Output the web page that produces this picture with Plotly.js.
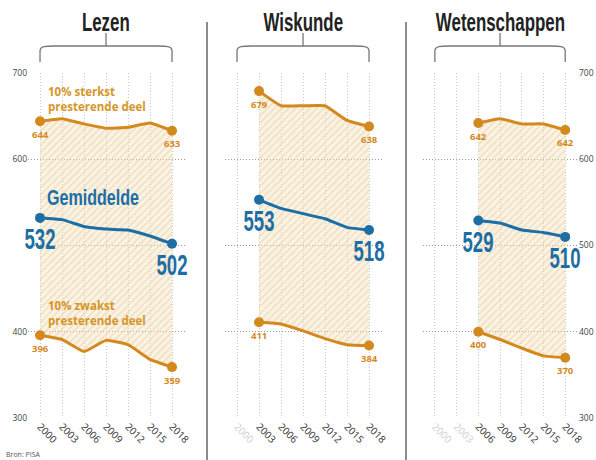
<!DOCTYPE html>
<html><head><meta charset="utf-8">
<script src="https://cdn.plot.ly/plotly-3.0.1.min.js"></script>
<style>html,body{margin:0;padding:0;background:#fff}#chart{width:596px;height:460px}</style>
</head><body><div id="chart"></div>
<script>
// ---------- data ----------
const yearsAll = [2000, 2003, 2006, 2009, 2012, 2015, 2018];
const tickLabels = ['2000', '2003', '2006', '2009', '2012', '2015', '2018'];

const lezenYears = [2000, 2003, 2006, 2009, 2012, 2015, 2018];
const lezenTop  = [644, 647, 641, 636, 637, 642, 633];
const lezenMean = [532, 530, 522, 519, 518, 511, 502];
const lezenLow  = [396, 391, 377, 390, 385, 368, 359];

const wiskYears = [2003, 2006, 2009, 2012, 2015, 2018];
const wiskTop  = [679, 662, 662, 662, 645, 638];
const wiskMean = [553, 543, 537, 531, 521, 518];
const wiskLow  = [411, 409, 401, 392, 385, 384];

const wetYears = [2006, 2009, 2012, 2015, 2018];
const wetTop  = [642, 647, 641, 641, 634];
const wetMean = [529, 526, 518, 515, 510];
const wetLow  = [400, 391, 381, 372, 370];

// printed end labels (as in the source graphic)
const lezenTopLabels = ['644', '633'];
const wiskTopLabels  = ['679', '638'];
const wetTopLabels   = ['642', '642'];

const panelTitles = ['Lezen', 'Wiskunde', 'Wetenschappen'];
const yTicks = [300, 400, 500, 600, 700];

// ---------- style ----------
const ORANGE = '#d4891f';
const BLUE = '#1c6ea4';
const W = 596, H = 460;
const py = p => (H - p) / H;   // pixel row -> paper y
const px = p => p / W;         // pixel col -> paper x

const panels = [
  {years: lezenYears, top: lezenTop, mean: lezenMean, low: lezenLow, topLab: lezenTopLabels, xa: 'x',  ya: 'y'},
  {years: wiskYears,  top: wiskTop,  mean: wiskMean,  low: wiskLow,  topLab: wiskTopLabels,  xa: 'x2', ya: 'y2'},
  {years: wetYears,   top: wetTop,   mean: wetMean,   low: wetLow,   topLab: wetTopLabels,   xa: 'x3', ya: 'y3'}
];

function endSizes(n){ return Array.from({length:n}, (_, i) => (i === 0 || i === n-1) ? 10 : 0); }
function mk(color, n){ return {color: color, size: endSizes(n), opacity: 1, line: {width: 0}}; }
const SMOOTH = 0.35;

const traces = [];
panels.forEach(p => {
  const n = p.years.length;
  traces.push({x: p.years, y: p.low, xaxis: p.xa, yaxis: p.ya, mode: 'lines+markers',
    line: {color: ORANGE, width: 3, shape: 'spline', smoothing: SMOOTH},
    marker: mk(ORANGE, n), cliponaxis: false, hoverinfo: 'skip', showlegend: false});
  traces.push({x: p.years, y: p.top, xaxis: p.xa, yaxis: p.ya, mode: 'lines+markers',
    fill: 'tonexty', fillcolor: 'rgba(240,215,170,0.35)',
    fillpattern: {shape: '/', bgcolor: 'rgba(243,222,185,0.4)', fgcolor: 'rgba(222,188,128,0.45)', size: 5, solidity: 0.22},
    line: {color: ORANGE, width: 3, shape: 'spline', smoothing: SMOOTH},
    marker: mk(ORANGE, n), cliponaxis: false, hoverinfo: 'skip', showlegend: false});
  traces.push({x: p.years, y: p.mean, xaxis: p.xa, yaxis: p.ya, mode: 'lines+markers',
    line: {color: BLUE, width: 3, shape: 'spline', smoothing: SMOOTH},
    marker: mk(BLUE, n), cliponaxis: false, hoverinfo: 'skip', showlegend: false});
});

const xRange = [1998.36, 2019.77];
const xDomains = [[px(28), px(185)], [px(225), px(382)], [px(423), px(578)]];
const yDomain = [py(418), py(73)];

function xAxis(i, fadedCount){
  const txt = tickLabels.map((t, k) => k < fadedCount ? '<span style="color:#d0d0d0">' + t + '</span>' : t);
  return {domain: xDomains[i], range: xRange, anchor: ['y','y2','y3'][i],
    tickvals: yearsAll, ticktext: txt, tickangle: 45,
    tickfont: {family: 'Open Sans, DejaVu Sans, sans-serif', size: 10, color: '#333'},
    showgrid: true, gridcolor: '#c8c8c8', griddash: '1px,2px', gridwidth: 1,
    zeroline: false, showline: false, ticks: '', fixedrange: true};
}
function yAxis(i){
  const base = {domain: yDomain, range: [300, 700], anchor: ['x','x2','x3'][i],
    tickvals: yTicks, showgrid: true, gridcolor: '#9a9a9a', griddash: '1px,2px', gridwidth: 1,
    zeroline: false, showline: false, ticks: '', fixedrange: true,
    tickfont: {family: 'Open Sans, DejaVu Sans, sans-serif', size: 8.5, color: '#444'}};
  if (i === 0) { base.side = 'left'; base.ticktext = yTicks.map(v => v === 500 ? '' : String(v)); }
  if (i === 1) { base.showticklabels = false; }
  if (i === 2) { base.side = 'right'; base.ticktext = yTicks.map(String); }
  return base;
}

const annotations = [];
const condensed = [];   // annotations to squeeze horizontally (condensed display face)
const shapes = [];
const smallFont = {family: 'Open Sans, sans-serif', size: 9.5, color: ORANGE, weight: 700};
const bigFont = {family: 'Liberation Sans, Arial, sans-serif', size: 30, color: BLUE, weight: 700};
function addCond(a, sx, origin){ condensed.push({i: annotations.length, sx: sx, origin: origin}); annotations.push(a); }

panels.forEach((p, i) => {
  const n = p.years.length;
  [0, n - 1].forEach((k, j) => {
    annotations.push({xref: p.xa, yref: p.ya, x: p.years[k], y: p.top[k], text: p.topLab[j],
      showarrow: false, yshift: -13, font: smallFont});
    annotations.push({xref: p.xa, yref: p.ya, x: p.years[k], y: p.low[k], text: String(p.low[k]),
      showarrow: false, yshift: -13, font: smallFont});
    addCond({xref: p.xa, yref: p.ya, x: p.years[k], y: p.mean[k], text: String(p.mean[k]),
      showarrow: false, yshift: -21, font: bigFont}, 0.62, 'center');
  });
  // panel title
  addCond({xref: p.xa, yref: 'paper', x: 2009, y: py(22), yanchor: 'middle', text: panelTitles[i], showarrow: false,
    font: {family: 'Liberation Sans, Arial, sans-serif', size: 26, color: '#222', weight: 700}}, 0.65, 'center');
  // bracket
  const yb = py(62), yh = py(46), yc = py(51), ys = py(33);
  shapes.push({type: 'path', xref: p.xa, yref: 'paper',
    path: `M 2000 ${yb} L 2000 ${yc} C 2000 ${yh} 2000.8 ${yh} 2002 ${yh} L 2016 ${yh} C 2017.2 ${yh} 2018 ${yh} 2018 ${yc} L 2018 ${yb}`,
    line: {color: '#777', width: 1.3}});
  shapes.push({type: 'line', xref: p.xa, yref: 'paper', x0: 2009, x1: 2009, y0: yh, y1: ys,
    line: {color: '#777', width: 1.3}});
});

// descriptive labels (Lezen panel)
const labelFont = {family: 'Open Sans, sans-serif', size: 11.5, color: '#d6952a', weight: 700};
annotations.push({xref: 'x', yref: 'y', x: 2000.8, y: 670, xanchor: 'left', align: 'left',
  text: '10% sterkst<br>presterende deel', showarrow: false, font: labelFont});
annotations.push({xref: 'x', yref: 'y', x: 2000.8, y: 422, xanchor: 'left', align: 'left',
  text: '10% zwakst<br>presterende deel', showarrow: false, font: labelFont});
addCond({xref: 'x', yref: 'y', x: 2000.7, y: 556, xanchor: 'left',
  text: 'Gemiddelde', showarrow: false,
  font: {family: 'Liberation Sans, Arial, sans-serif', size: 22, color: BLUE, weight: 700}}, 0.73, 'left');
// source
annotations.push({xref: 'paper', yref: 'paper', x: px(4), y: py(448), xanchor: 'left', yanchor: 'top',
  text: 'Bron: PISA', showarrow: false, font: {family: 'Open Sans, sans-serif', size: 7, color: '#555'}});

// dividers
[207, 406].forEach(c => shapes.push({type: 'line', xref: 'paper', yref: 'paper', x0: px(c), x1: px(c),
  y0: 0, y1: py(22), line: {color: '#8c8c8c', width: 2}}));

const layout = {
  width: W, height: H, margin: {l: 0, r: 0, t: 0, b: 0},
  paper_bgcolor: '#ffffff', plot_bgcolor: 'rgba(0,0,0,0)',
  showlegend: false,
  xaxis: xAxis(0, 0), xaxis2: xAxis(1, 1), xaxis3: xAxis(2, 2),
  yaxis: yAxis(0), yaxis2: yAxis(1), yaxis3: yAxis(2),
  annotations: annotations, shapes: shapes
};

Plotly.newPlot('chart', traces, layout, {staticPlot: true, displayModeBar: false}).then(gd => {
  condensed.forEach(c => {
    const g = gd.querySelector('.annotation[data-index="' + c.i + '"]');
    if (!g) return;
    const t = g.querySelector('text');
    if (!t) return;
    const bb = t.getBBox();
    const ox = c.origin === 'left' ? bb.x : bb.x + bb.width / 2;
    const prev = t.getAttribute('transform') || '';
    t.setAttribute('transform', prev + ' translate(' + ox + ',0) scale(' + c.sx + ',1) translate(' + (-ox) + ',0)');
  });
});
</script></body></html>
